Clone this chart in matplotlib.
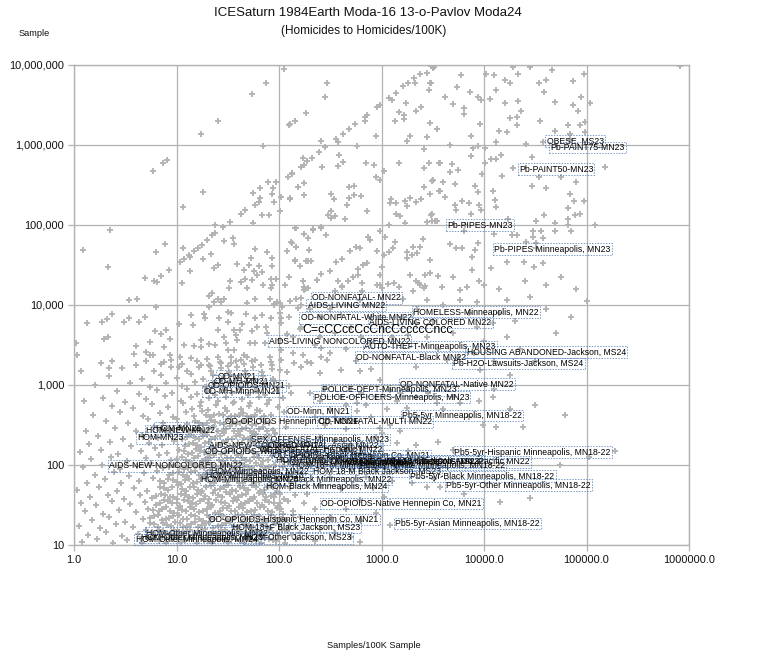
import numpy as np
import matplotlib
matplotlib.use("Agg")
import matplotlib.pyplot as plt

# All values are log10 of (Samples/100K, Sample).
top_right = [(3.50,6.96),(3.78,6.87),(4.02,6.89),(4.10,6.87),(4.28,6.98),(4.33,6.89),(4.45,6.98),(4.66,6.94),(4.98,6.89),(5.91,6.99),(3.47,6.77),(3.74,6.72),(3.86,6.66),(3.94,6.60),(3.97,6.56),(4.06,6.58),(4.12,6.69),(4.20,6.81),(4.25,6.77),(4.54,6.77),(4.60,6.81),(4.59,6.66),(4.87,6.80),(4.95,6.60),(4.69,6.54),(4.87,6.50),(5.03,6.53),(4.92,6.43),(3.62,6.60),(3.70,6.51),(3.80,6.46),(3.80,6.39),(4.33,6.55),(4.20,6.52),(4.36,6.43),(4.25,6.34),(4.32,6.35),(4.55,6.30),(4.32,6.25),(3.96,6.26),(3.54,6.20),(4.15,6.18),(4.22,6.16),(3.87,6.11),(4.69,6.17),(4.82,6.25),(4.94,6.25),(4.99,6.29),(4.99,6.16),(4.84,6.14),(4.12,6.04),(3.89,5.96),(3.94,5.99),(4.01,5.96),(3.67,6.00),(4.41,6.01),(4.58,6.04),(4.84,6.06),(3.87,5.86),(4.17,5.87),(4.07,5.82),(4.12,5.83),(4.47,5.85),(4.01,5.78),(3.57,5.78),(3.69,5.76),(3.75,5.69),(3.67,5.66),(3.98,5.64),(4.28,5.71),(4.47,5.49),(4.54,5.60),(4.75,5.60),(4.90,5.54),(4.18,5.61),(5.18,5.73),(3.60,5.54),(3.72,5.51),(3.49,5.55),(3.91,5.49),(3.94,5.41),(4.09,5.42),(3.57,5.43),(3.62,5.35),(4.11,5.31),(4.60,5.46),(4.84,5.39),(4.88,5.30),(4.98,5.30),(3.79,5.30),(3.85,5.28),(3.72,5.25),(3.95,5.25),(4.12,5.23),(3.97,5.19),(3.73,5.19),(3.87,5.14),(3.49,5.14),(4.59,5.13),(4.82,5.21),(4.82,5.08),(4.89,5.12),(4.94,5.14),(4.23,5.08),(4.51,5.05),(4.69,5.03),(3.52,5.05),(3.81,5.00),(5.08,5.00),(4.82,5.00),(4.85,4.92),(4.69,4.92),(4.27,4.87),(4.32,4.87),(4.56,4.93),(4.48,4.93),(4.10,4.89),(3.80,4.93),(4.48,4.85),(4.58,4.84),(4.51,4.78),(3.67,4.76),(3.73,4.71),(3.79,4.71),(3.94,4.77),(3.91,4.69),(3.88,4.60),(4.22,4.54),(4.39,4.54),(4.49,4.48),(4.58,4.52),(4.07,4.46),(3.88,4.44),(4.51,4.71),(4.41,4.79)]

top_left = [(.77,5.68),(.87,5.78),(.91,5.81),(1.24,6.14),(1.40,6.30),(1.74,6.64),(1.87,6.78),(2.05,6.95),(1.84,5.99),(2.10,6.25),(2.16,6.30),(1.26,5.41),(1.75,5.40),(1.81,5.46),(1.89,5.54),(1.97,5.54),(1.94,5.46),(1.93,5.39),(2.02,5.35),(2.11,5.34),(2.09,5.60),(2.13,5.65),(2.19,5.48),(1.81,5.34)]

upper_centre = [(2.47,6.78),(2.45,6.60),(2.26,6.40),(2.16,6.30),(2.11,6.26),(2.84,6.35),(2.86,6.38),(2.84,6.30),(2.74,6.26),(2.68,6.20),(2.62,6.14),(2.56,6.08),(2.58,6.04),(2.41,6.05),(2.95,6.11),(2.96,6.48),(2.99,6.50),(3.07,6.59),(3.10,6.56),(3.14,6.65),(3.21,6.74),(3.26,6.78),(3.32,6.84),(3.33,6.78),(3.38,6.89),(3.44,6.90),(3.48,6.99),(3.51,6.97),(3.48,6.78),(3.46,6.69),(3.24,6.53),(3.17,6.41),(3.22,6.38),(3.13,6.30),(3.22,6.32),(3.34,6.42),(3.39,6.48),(3.47,6.27),(3.54,6.20),(3.28,6.11),(3.25,6.05),(3.44,6.10),(2.76,5.99),(2.45,5.97),(2.39,5.91),(2.59,5.88),(2.23,5.84),(2.32,5.84),(2.27,5.80),(2.24,5.75),(2.21,5.72),(2.42,5.72),(2.13,5.64),(2.62,5.79),(2.58,5.74),(2.85,5.78),(2.93,5.75),(3.02,5.67),(2.95,5.60),(2.99,5.56),(3.17,5.77),(3.41,5.95),(3.46,5.77),(3.41,5.71),(3.56,5.78),(3.50,5.56),(3.41,5.47),(3.56,5.43),(3.47,5.39),(2.24,5.53),(2.19,5.47),(2.24,5.38),(2.11,5.33),(2.68,5.47),(2.73,5.49),(2.73,5.38),(2.80,5.36),(2.51,5.39),(2.54,5.33),(2.68,5.34),(2.66,5.25),(2.86,5.17),(2.51,5.17),(2.48,5.13),(2.55,5.11),(2.51,5.09),(2.64,5.07),(3.09,5.33),(3.08,5.27),(3.14,5.27),(3.23,5.30),(3.25,5.24),(3.28,5.34),(3.34,5.29),(3.39,5.32),(3.14,5.14),(3.18,5.11),(3.23,5.03),(3.48,5.13),(3.44,5.04),(3.49,5.05),(3.54,5.05),(3.07,5.00),(2.17,4.96),(2.33,4.95),(2.41,4.97),(2.24,4.89),(2.28,4.84),(2.46,4.88),(2.12,4.79),(2.17,4.73),(2.29,4.69),(2.16,4.55),(2.20,4.49),(2.26,4.55),(2.31,4.55),(2.56,4.54),(2.61,4.58),(2.69,4.67),(2.75,4.73),(2.79,4.71),(2.87,4.85),(2.89,4.81),(2.99,4.92),(3.03,4.85),(3.13,4.79),(3.11,4.71),(3.07,4.66),(3.02,4.62),(2.96,4.67),(3.40,4.83),(3.38,4.72),(3.31,4.72),(3.25,4.66),(3.35,4.65),(3.30,4.62),(3.25,4.59),(3.47,4.56),(2.86,4.52),(2.82,4.50),(2.77,4.45),(2.50,4.42),(2.41,4.39),(2.77,4.38),(2.72,4.35),(2.67,4.30),(2.61,4.24),(2.58,4.30),(2.55,4.18),(2.37,4.31),(2.23,4.30),(2.25,4.20),(3.00,4.47),(2.99,4.37),(2.96,4.25),(3.00,4.21),(3.06,4.26),(3.17,4.22),(3.28,4.38),(3.34,4.30),(3.37,4.27),(3.42,4.24),(3.42,4.37),(3.47,4.40),(3.55,4.36),(2.81,4.17),(3.31,4.17)]

upper_left = [(.35,4.94),(.09,4.69),(.33,4.48),(.80,4.66),(.89,4.76),(.69,4.34),(.93,4.44),(.78,4.30),(.81,4.29),(.85,4.36),(.54,4.06),(.61,4.07),(.80,3.98),(.13,3.78),(.27,3.79),(.32,3.83),(.37,3.89),(.49,3.79),(.54,3.84),(.63,3.79),(.69,3.85),(.33,3.60),(.29,3.57),(.02,3.53),(.03,3.37),(.59,3.39),(.60,3.49),(.74,3.54),(.79,3.68),(.90,3.69),(.85,3.64),(.94,3.58),(.88,3.47),(.94,3.37),(.70,3.41),(.74,3.37),(.77,3.37),(.37,3.30),(.34,3.21),(.70,3.30),(.85,3.26),(.95,3.31),(1.03,4.54),(1.07,4.58),(1.12,4.62),(1.17,4.68),(1.21,4.71),(1.25,4.75),(1.30,4.81),(1.35,4.87),(1.38,4.90),(1.06,4.71),(1.13,4.60),(1.26,4.58),(1.34,4.64),(1.40,4.50),(1.37,4.46),(1.13,4.42),(1.05,4.28),(1.06,5.23),(1.63,5.14),(1.67,5.19),(1.77,5.25),(1.80,5.29),(1.52,5.04),(1.38,5.00),(1.45,4.97),(1.75,5.03),(1.83,5.12),(1.90,5.13),(2.01,5.17),(1.95,5.29),(1.55,4.84),(1.46,4.80),(1.56,4.76),(1.77,4.70),(1.88,4.66),(1.73,4.59),(1.93,4.59),(1.59,4.51),(1.71,4.50),(1.66,4.44),(1.80,4.49),(1.93,4.49),(1.76,4.43),(1.83,4.41),(1.52,4.30),(1.63,4.29),(1.67,4.33),(1.74,4.31),(1.79,4.37),(1.92,4.33),(1.97,4.32),(1.84,4.25),(1.93,4.25),(1.51,4.21),(1.69,4.21),(1.92,4.21),(1.35,4.15),(1.32,4.11),(1.40,4.08),(1.46,4.08),(1.37,4.04),(1.43,4.04),(1.77,4.07),(1.69,4.02),(1.98,4.04),(1.95,4.01),(2.03,3.98),(2.11,4.05),(2.21,4.09),(2.24,4.19),(2.28,4.21),(2.21,4.00),(2.08,4.68),(2.16,4.56),(2.28,4.55),(2.10,4.35),(2.23,4.30),(2.37,4.31),(2.16,4.96),(2.24,4.89),(2.33,4.94),(2.41,4.96),(2.13,4.78),(2.17,4.73),(2.29,4.69),(1.32,3.97),(1.27,3.89),(1.14,3.87),(1.28,3.84),(1.02,3.76),(1.16,3.75),(1.41,3.84),(1.53,3.90),(1.50,3.91),(1.68,3.89),(1.77,3.84),(2.02,3.84),(1.92,3.84),(1.50,3.79),(1.64,3.76),(2.02,3.77),(1.87,3.73),(1.79,3.73),(1.62,3.69),(1.56,3.69),(1.40,3.69),(1.74,3.68),(1.58,3.62),(1.46,3.60),(1.24,3.56),(1.32,3.51),(1.07,3.50),(1.17,3.49),(1.24,3.47),(1.38,3.50),(1.48,3.52),(1.59,3.56),(1.72,3.52),(1.77,3.52),(1.50,3.44),(1.56,3.44),(1.40,3.35),(1.66,3.37),(1.53,3.35),(1.14,3.34),(1.30,3.32),(1.03,3.35),(1.02,3.23),(1.24,3.25),(1.33,3.24),(1.43,3.27),(1.53,3.27),(1.63,3.31),(1.69,3.35),(1.77,3.31),(1.93,3.25),(2.02,3.31),(2.02,3.44),(2.15,3.27),(2.23,3.37),(2.31,3.27),(2.41,3.35),(2.08,3.64),(2.21,3.73),(2.41,3.46)]

mid_band = [(2.06,4.25),(2.24,4.23),(2.61,4.23),(2.81,4.27),(2.99,4.25),(3.12,4.27),(3.38,4.25),(3.41,4.21),(3.59,4.23),(3.77,4.19),(3.83,4.23),(4.00,4.25),(1.91,4.08),(2.17,4.08),(2.79,4.06),(3.21,4.08),(3.44,4.06),(3.77,4.06),(3.93,4.04),(4.22,4.06),(2.01,4.02),(1.95,4.00),(2.19,3.96),(1.83,3.87),(2.01,3.90),(3.34,3.77),(3.26,3.62),(4.09,3.77),(4.22,3.60),(3.93,3.73),(3.44,3.60),(2.89,3.52),(2.40,3.60),(2.14,3.60),(2.01,3.56),(1.86,3.52),(1.88,3.65),(3.34,3.23),(3.64,3.31),(3.96,3.19),(4.25,3.12),(4.09,2.85),(3.34,2.85),(3.54,2.77),(3.77,2.77),(3.18,2.90),(3.08,2.94),(2.99,3.06),(2.79,3.17),(2.40,3.15),(2.21,3.23),(2.01,3.19),(2.60,3.19),(2.47,3.31),(2.27,3.29),(1.91,3.35),(2.14,3.40),
(2.30,3.95),(2.40,3.85),(2.50,3.95),(2.60,3.88),(2.70,3.72),(2.55,3.65),(2.65,3.45),(2.80,3.60),(2.90,3.85),(3.00,3.75),(2.20,3.70),(2.10,3.85),(2.35,3.50),(2.50,3.40),(2.75,3.30),(2.90,3.20),(3.05,3.35),(3.10,3.60),(3.20,3.85),(3.35,3.95),(3.50,3.80),(3.60,4.00),(3.70,3.65),(3.85,3.90),(4.00,3.55),(4.15,3.90),(4.30,3.80),(4.45,4.10),(4.60,3.95),(3.55,3.45),(3.75,3.35),(3.90,3.40),(4.10,3.30),(4.35,3.45),(4.50,3.30),(4.70,3.65),(4.40,4.30),(4.15,4.20),(4.60,4.25),(4.75,4.35),(4.90,4.20),(5.00,4.05),(4.85,3.85),(3.95,4.30),(3.70,4.35)]

lower_right = [(4.79,2.62),(2.76,2.77),(3.99,2.50),(4.12,2.48),(4.38,2.48),(3.55,2.29),(3.34,2.25),(3.26,2.17),(3.70,2.19),(5.28,2.17),(5.02,2.10),(4.74,2.00),(4.16,1.54),(4.45,1.59),(3.08,1.25),(2.79,1.04),(3.44,1.73),(3.57,1.73),(3.30,1.77),(3.80,1.64),(3.02,1.60),(2.92,1.71),(2.79,1.56),(2.27,1.64),(2.01,1.52),(2.24,1.52),(2.04,1.39),(2.14,1.37),(1.95,1.60),(3.51,1.83),(3.15,2.27),(3.18,2.42),(2.99,2.46),(2.95,2.35),(3.25,2.71),(2.76,2.67),(3.08,2.50),(3.31,2.06),
(2.30,2.90),(2.40,2.80),(2.45,2.95),(2.50,2.70),(2.60,2.85),(2.65,2.75),(2.70,2.95),(2.80,2.90),(2.85,2.75),(2.95,2.85),(3.05,2.70),(3.15,2.80),(3.25,2.95),(3.35,2.60),(3.45,2.90),(3.60,2.70),(3.70,2.85),(3.85,2.60),(3.95,2.80),(4.10,2.95),(4.25,2.70),(4.50,2.75),(2.35,2.60),(2.45,2.50),(2.55,2.60),(2.65,2.45),(2.75,2.55),(2.90,2.60),(3.00,2.40),(2.40,2.35),(2.55,2.30),(2.70,2.25),(2.80,2.15),(2.90,2.10),(3.05,2.05),(3.15,1.95),(2.60,2.10),(2.45,2.00),(2.50,1.85),(2.70,1.95),(2.85,1.85),(2.95,1.95),(3.10,1.80),(2.60,1.70),(2.40,1.75),(2.35,1.45),(2.50,1.35),(2.65,1.45),(2.80,1.30),(2.95,1.40),(2.40,1.20),(2.55,1.15),(2.70,1.10),(2.20,1.15),(2.35,1.05)]

cloud_low = [(.08,1.04),(.22,1.07),(.38,1.03),(.52,1.06),(.66,1.02),(.75,1.08),(.83,1.05),(.9,1.02),(.97,1.07),(1.04,1.04),(1.12,1.09),(1.2,1.03),(1.27,1.06),(1.35,1.02),(1.42,1.08),(1.5,1.04),(1.58,1.07),(1.66,1.03),(1.74,1.06),(1.82,1.02),(1.9,1.08),(1.97,1.05),(2.06,1.03),(2.17,1.07),
(.14,1.13),(.31,1.16),(.47,1.11),(.62,1.14),(.7,1.19),(.79,1.12),(.87,1.17),(.95,1.14),(1.01,1.11),(1.09,1.17),(1.16,1.13),(1.24,1.18),(1.31,1.12),(1.39,1.15),(1.47,1.19),(1.55,1.11),(1.63,1.16),(1.7,1.13),(1.78,1.18),(1.86,1.12),(1.94,1.15),(2.03,1.19),(2.13,1.12),
(.05,1.24),(.25,1.21),(.41,1.26),(.58,1.23),(.74,1.27),(.82,1.22),(.91,1.25),(.99,1.29),(1.06,1.22),(1.14,1.26),(1.21,1.23),(1.29,1.28),(1.36,1.21),(1.44,1.25),(1.52,1.29),(1.6,1.22),(1.68,1.26),(1.75,1.23),(1.83,1.28),(1.91,1.21),(2.0,1.26),(2.1,1.24),
(.18,1.31),(.34,1.35),(.5,1.29),(.67,1.33),(.78,1.36),(.86,1.31),(.93,1.34),(1.02,1.38),(1.1,1.32),(1.18,1.36),(1.26,1.3),(1.33,1.35),(1.41,1.39),(1.49,1.31),(1.56,1.34),(1.64,1.38),(1.72,1.32),(1.8,1.36),(1.88,1.3),(1.96,1.34),(2.07,1.31),(2.2,1.35),
(.11,1.42),(.28,1.39),(.44,1.44),(.6,1.41),(.72,1.45),(.83,1.42),(.9,1.47),(.98,1.4),(1.05,1.44),(1.13,1.48),(1.22,1.41),(1.3,1.45),(1.38,1.4),(1.45,1.46),(1.53,1.42),(1.61,1.47),(1.69,1.41),(1.77,1.44),(1.85,1.48),(1.93,1.41),(2.02,1.45),(2.14,1.42),
(.07,1.53),(.21,1.5),(.37,1.55),(.55,1.51),(.69,1.54),(.8,1.5),(.88,1.56),(.96,1.52),(1.03,1.49),(1.11,1.55),(1.19,1.51),(1.27,1.57),(1.35,1.5),(1.43,1.54),(1.51,1.49),(1.59,1.56),(1.67,1.52),(1.75,1.57),(1.83,1.5),(1.9,1.54),(1.99,1.49),(2.09,1.55),
(.16,1.6),(.33,1.63),(.49,1.58),(.64,1.62),(.76,1.59),(.85,1.64),(.94,1.6),(1.0,1.57),(1.08,1.63),(1.16,1.59),(1.24,1.65),(1.32,1.58),(1.4,1.62),(1.48,1.66),(1.56,1.59),(1.64,1.63),(1.72,1.58),(1.8,1.65),(1.87,1.6),(1.96,1.64),(2.05,1.58),(2.16,1.62)]

cloud_mid = [(.03,1.69),(.24,1.72),(.42,1.67),(.59,1.71),(.71,1.68),(.84,1.73),(.92,1.69),(1.01,1.75),(1.09,1.67),(1.17,1.72),(1.25,1.68),(1.34,1.74),(1.42,1.7),(1.5,1.75),(1.58,1.67),(1.66,1.71),(1.74,1.75),(1.81,1.68),(1.89,1.72),(1.98,1.67),(2.11,1.71),
(.13,1.78),(.3,1.82),(.46,1.77),(.63,1.8),(.77,1.84),(.88,1.78),(.97,1.81),(1.04,1.76),(1.12,1.83),(1.2,1.79),(1.28,1.84),(1.37,1.77),(1.45,1.81),(1.53,1.85),(1.61,1.78),(1.69,1.82),(1.76,1.77),(1.84,1.83),(1.92,1.79),(2.0,1.84),(2.12,1.78),
(.2,1.88),(.39,1.91),(.54,1.86),(.68,1.9),(.81,1.93),(.93,1.87),(1.02,1.91),(1.1,1.86),(1.18,1.92),(1.26,1.88),(1.33,1.94),(1.41,1.87),(1.49,1.9),(1.57,1.85),(1.65,1.92),(1.73,1.88),(1.81,1.93),(1.89,1.86),(1.97,1.9),(2.08,1.87),
(.09,1.97),(.27,2.0),(.45,1.95),(.61,1.99),(.75,2.02),(.87,1.96),(.99,2.0),(1.07,1.95),(1.15,2.01),(1.23,1.97),(1.31,2.03),(1.39,1.96),(1.47,2.0),(1.55,1.95),(1.62,2.02),(1.7,1.98),(1.78,2.03),(1.86,1.96),(1.95,2.0),(2.04,1.97),
(.17,2.07),(.36,2.1),(.52,2.05),(.7,2.09),(.83,2.12),(.95,2.06),(1.05,2.1),(1.13,2.04),(1.21,2.11),(1.29,2.07),(1.37,2.12),(1.45,2.05),(1.53,2.09),(1.6,2.13),(1.68,2.06),(1.76,2.1),(1.84,2.05),(1.93,2.11),(2.03,2.07),
(.06,2.16),(.26,2.19),(.43,2.14),(.65,2.18),(.79,2.21),(.91,2.15),(1.02,2.19),(1.11,2.14),(1.19,2.2),(1.27,2.16),(1.35,2.21),(1.43,2.14),(1.51,2.18),(1.59,2.13),(1.67,2.2),(1.75,2.16),(1.83,2.21),(1.92,2.15),
(.15,2.26),(.35,2.29),(.56,2.24),(.73,2.28),(.86,2.25),(.98,2.3),(1.08,2.24),(1.16,2.28),(1.24,2.23),(1.32,2.29),(1.4,2.25),(1.48,2.3),(1.56,2.23),(1.64,2.27),(1.72,2.31),(1.8,2.24),(1.88,2.28),(1.98,2.25),
(.23,2.36),(.48,2.33),(.66,2.38),(.82,2.34),(.94,2.39),(1.05,2.33),(1.14,2.37),(1.22,2.32),(1.3,2.38),(1.38,2.34),(1.46,2.4),(1.54,2.33),(1.62,2.37),(1.7,2.32),(1.78,2.39),(1.86,2.35),(1.96,2.4)]

cloud_high = [(.12,2.43),(.4,2.46),(.6,2.42),(.78,2.47),(.9,2.43),(1.03,2.48),(1.12,2.42),(1.2,2.46),(1.28,2.41),(1.36,2.47),(1.44,2.43),(1.52,2.49),(1.6,2.42),(1.68,2.46),(1.76,2.41),(1.84,2.48),(1.94,2.44),(2.07,2.47),
(.31,2.55),(.53,2.52),(.72,2.57),(.87,2.53),(1.0,2.58),(1.1,2.51),(1.18,2.55),(1.26,2.5),(1.34,2.56),(1.42,2.52),(1.5,2.58),(1.58,2.51),(1.66,2.55),(1.74,2.5),(1.82,2.57),(1.9,2.53),
(.19,2.63),(.45,2.66),(.67,2.61),(.84,2.65),(.97,2.6),(1.09,2.66),(1.17,2.61),(1.25,2.67),(1.33,2.6),(1.41,2.64),(1.49,2.68),(1.57,2.61),(1.65,2.65),(1.73,2.6),(1.81,2.67),(1.92,2.63),(2.05,2.66),
(.37,2.74),(.58,2.71),(.76,2.76),(.92,2.72),(1.06,2.77),(1.15,2.7),(1.23,2.74),(1.31,2.69),(1.39,2.75),(1.47,2.71),(1.55,2.77),(1.63,2.7),(1.71,2.74),(1.79,2.69),(1.88,2.76),(1.99,2.72),
(.1,2.8),(.28,2.84),(.5,2.79),(.7,2.83),(.89,2.86),(1.04,2.8),(1.14,2.85),(1.24,2.79),(1.32,2.84),(1.4,2.8),(1.48,2.85),(1.56,2.79),(1.64,2.83),(1.72,2.78),(1.8,2.85),(1.9,2.81),(2.04,2.84),
(.42,2.93),(.63,2.89),(.81,2.94),(.96,2.9),(1.1,2.95),(1.2,2.89),(1.3,2.93),(1.38,2.88),(1.46,2.94),(1.54,2.9),(1.62,2.95),(1.7,2.88),(1.78,2.92),(1.86,2.87),(1.98,2.93),(2.12,2.9),
(.2,3.0),(.55,3.03),(.74,2.98),(.9,3.02),(1.05,2.99),(1.18,3.04),(1.28,2.98),(1.37,3.02),(1.45,2.97),(1.53,3.03),(1.61,2.99),(1.69,3.04),(1.77,2.97),(1.85,3.01),(1.95,3.05),(2.1,2.99),
(.34,3.11),(.66,3.08),(.85,3.13),(1.0,3.09),(1.14,3.14),(1.26,3.08),(1.36,3.12),(1.44,3.07),(1.52,3.13),(1.6,3.09),(1.68,3.14),(1.76,3.07),(1.84,3.11),(1.94,3.07),
(.07,3.18),(.47,3.21),(.78,3.17),(.95,3.22),(1.1,3.18),(1.22,3.23),(1.34,3.17),(1.43,3.21),(1.51,3.16),(1.59,3.22),(1.67,3.18),(1.75,3.23),(1.83,3.16),(1.93,3.2),(2.08,3.16),
(.26,3.28),(.6,3.25),(.88,3.29),(1.05,3.26),(1.2,3.3),(1.32,3.25),(1.42,3.29),(1.5,3.24),(1.58,3.3),(1.66,3.26),(1.74,3.3),(1.82,3.25),(1.92,3.29)]

cloud_core = [(.72,1.09),(.86,1.1),(.94,1.08),(1.0,1.1),(1.08,1.06),(1.16,1.08),(1.24,1.1),(1.31,1.05),(1.39,1.09),(1.46,1.06),(1.54,1.09),(1.62,1.05),(1.7,1.09),(1.78,1.05),(1.86,1.09),(1.94,1.06),
(.76,1.16),(.83,1.19),(.91,1.15),(.98,1.19),(1.05,1.15),(1.13,1.19),(1.2,1.15),(1.28,1.2),(1.35,1.15),(1.43,1.19),(1.51,1.15),(1.59,1.19),(1.67,1.15),(1.74,1.19),(1.82,1.15),(1.9,1.19),(1.98,1.15),(2.08,1.18),
(.78,1.26),(.87,1.28),(.95,1.24),(1.03,1.27),(1.1,1.24),(1.18,1.29),(1.25,1.25),(1.33,1.29),(1.4,1.24),(1.48,1.27),(1.56,1.24),(1.64,1.29),(1.71,1.25),(1.79,1.29),(1.87,1.24),(1.96,1.28),
(.74,1.34),(.82,1.37),(.9,1.33),(.97,1.36),(1.06,1.33),(1.14,1.37),(1.22,1.33),(1.3,1.38),(1.37,1.33),(1.45,1.36),(1.53,1.33),(1.6,1.37),(1.68,1.33),(1.76,1.38),(1.84,1.33),(1.92,1.37),(2.02,1.33),
(.77,1.44),(.86,1.45),(.94,1.43),(1.01,1.46),(1.09,1.42),(1.17,1.45),(1.26,1.42),(1.34,1.47),(1.42,1.43),(1.49,1.46),(1.57,1.42),(1.65,1.46),(1.73,1.42),(1.81,1.47),(1.89,1.43),(1.98,1.46),
(.84,1.53),(.92,1.55),(1.0,1.52),(1.07,1.56),(1.15,1.52),(1.23,1.55),(1.31,1.52),(1.39,1.56),(1.47,1.52),(1.55,1.55),(1.63,1.51),(1.71,1.55),(1.79,1.52),(1.86,1.56),(1.95,1.52),
(.8,1.61),(.89,1.63),(.97,1.6),(1.04,1.64),(1.12,1.6),(1.2,1.64),(1.28,1.61),(1.36,1.65),(1.44,1.6),(1.52,1.64),(1.6,1.6),(1.68,1.64),(1.76,1.6),(1.84,1.64),(1.92,1.61),(2.01,1.64),
(.88,1.71),(.96,1.73),(1.05,1.7),(1.13,1.73),(1.21,1.69),(1.29,1.72),(1.38,1.69),(1.46,1.73),(1.54,1.69),(1.62,1.73),(1.7,1.69),(1.78,1.73),(1.85,1.69),(1.94,1.73),
(.84,1.8),(.92,1.82),(1.0,1.79),(1.08,1.81),(1.16,1.78),(1.24,1.82),(1.33,1.79),(1.41,1.83),(1.49,1.79),(1.57,1.82),(1.65,1.78),(1.73,1.82),(1.8,1.79),(1.88,1.82),(1.96,1.79),
(.97,1.9),(1.06,1.88),(1.14,1.91),(1.22,1.87),(1.3,1.9),(1.37,1.87),(1.45,1.91),(1.53,1.87),(1.61,1.9),(1.69,1.87),(1.77,1.91),(1.85,1.88),(1.93,1.91),
(.93,1.98),(1.03,1.99),(1.11,1.96),(1.19,1.99),(1.27,1.96),(1.35,2.0),(1.43,1.97),(1.51,2.0),(1.59,1.97),(1.66,2.0),(1.74,1.96),(1.82,2.0),(1.9,1.97),
(1.0,2.08),(1.09,2.06),(1.17,2.09),(1.25,2.05),(1.33,2.09),(1.41,2.06),(1.49,2.09),(1.57,2.05),(1.64,2.09),(1.72,2.05),(1.8,2.09),(1.89,2.06),
(1.07,2.17),(1.15,2.15),(1.23,2.18),(1.31,2.14),(1.39,2.18),(1.47,2.15),(1.55,2.18),(1.63,2.14),(1.71,2.18),(1.79,2.14),(1.87,2.18),
(1.12,2.26),(1.2,2.25),(1.28,2.27),(1.36,2.23),(1.44,2.27),(1.52,2.24),(1.6,2.27),(1.68,2.23),(1.76,2.27),(1.84,2.24),(1.92,2.27),
(1.1,2.35),(1.18,2.34),(1.26,2.36),(1.34,2.33),(1.42,2.36),(1.5,2.33),(1.58,2.36),(1.66,2.34),(1.74,2.36),(1.82,2.33),(1.9,2.36),
(1.16,2.44),(1.24,2.43),(1.32,2.45),(1.4,2.42),(1.48,2.45),(1.56,2.43),(1.64,2.45),(1.72,2.42),(1.8,2.45),(1.88,2.43),
(1.22,2.53),(1.3,2.52),(1.38,2.54),(1.46,2.51),(1.54,2.54),(1.62,2.52),(1.7,2.54),(1.78,2.51),(1.86,2.54),
(1.29,2.62),(1.37,2.62),(1.45,2.63),(1.53,2.61),(1.61,2.63),(1.69,2.61),(1.77,2.63),(1.85,2.61)]

points_log10 = top_right + top_left + upper_centre + upper_left + mid_band + lower_right + cloud_low + cloud_mid + cloud_high + cloud_core

label_names = ["OBESE, MS23","Pb-PAINT75-MN23","Pb-PAINT50-MN23","Pb-PIPES-MN23","Pb-PIPES Minneapolis, MN23",
"OD-NONFATAL- MN22","AIDS-LIVING MN22","OD-NONFATAL-White MN22","HOMELESS-Minneapolis, MN22","AIDS-LIVING COLORED MN22",
"AIDS-LIVING NONCOLORED MN22","AUTO-THEFT-Minneapolis, MN23","OD-NONFATAL-Black MN22","HOUSING ABANDONED-Jackson, MS24","Pb-H2O-Lawsuits-Jackson, MS24",
"OD-NONFATAL-Native MN22","POLICE-DEPT-Minneapolis, MN23","POLICE-OFFICERS-Minneapolis, MN23","OD-MN21","OD-OPIOIDS-MN21","OD-MH-MN21","OD-MH-Minn-MN21",
"OD-Minn, MN21","Pb5-5yr Minneapolis, MN18-22","OD-OPIOIDS Hennepin Co, MN21","OD-NONFATAL-MULTI MN22","HOM-MN21","HOM-NEW MN22","HOM-MN23",
"SEX OFFENSE-Minneapolis, MN23","AIDS-NEW-COLORED MN22","OD-OPIOIDS-White Hennepin Co, MN21","OD-NONFATAL-Asian MN22","OD-NONFATAL-Hispanic MN22",
"OD-OPIOIDS-Black Hennepin Co, MN21","HOM-Hispanic Minneapolis, MN22","HOM-White Minneapolis, MN22","HOM-Jackson, MS23","HOM-18+M Minneapolis, MN22",
"OD-OPIOIDS-White Minneapolis, MN22","Pb5-5yr-White Minneapolis, MN18-22","HOM-Minneapolis, MN23","HOM-18+ Jackson, MS23","OD-NONFATAL-Pacific MN22",
"Pb5-5yr-Hispanic Minneapolis, MN18-22","AIDS-NEW-NONCOLORED MN22","HOM-Minneapolis, MN22","HOM-Minneapolis, MN23","HOM-Minneapolis, MN24",
"HOM-18-M Black Jackson, MS23","HOM-Black Minneapolis, MN22","HOM-Black Minneapolis, MN24","Pb5-5yr-Black Minneapolis, MN18-22","Pb5-5yr-Other Minneapolis, MN18-22",
"OD-OPIOIDS-Native Hennepin Co, MN21","Pb5-5yr-Asian Minneapolis, MN18-22","OD-OPIOIDS-Hispanic Hennepin Co, MN21","HOM-18+F Black Jackson, MS23","HOM-Other Jackson, MS23",
"HOM-Other Minneapolis, MN22","HOM-Other Minneapolis, MN23","HOM-Other Minneapolis, MN24"]
label_x_log10 = [4.61,4.65,4.34,3.64,4.10,2.32,2.28,2.21,3.31,2.88,1.90,2.83,2.75,3.83,3.70,3.18,2.42,2.34,1.40,1.30,1.36,1.26,2.08,3.20,1.47,2.38,0.79,0.70,0.62,1.73,1.32,1.28,1.89,1.81,1.94,1.97,2.04,2.11,2.13,2.50,2.79,2.61,2.99,3.33,3.71,0.34,1.34,1.29,1.24,2.33,1.91,1.87,3.28,3.63,2.41,3.13,1.32,1.54,1.67,0.70,0.65,0.60]
label_y_log10 = [6.05,5.97,5.70,5.00,4.70,4.09,4.00,3.84,3.91,3.78,3.55,3.48,3.35,3.41,3.27,3.01,2.94,2.85,3.11,2.99,3.05,2.92,2.67,2.62,2.54,2.54,2.46,2.43,2.34,2.32,2.25,2.17,2.24,2.20,2.12,2.06,2.03,2.09,2.00,2.05,2.00,2.03,2.05,2.04,2.16,1.99,1.92,1.87,1.82,1.92,1.82,1.73,1.86,1.75,1.52,1.27,1.32,1.22,1.09,1.15,1.10,1.07]
overlay_text = "C=cCCccCcCncCccccCncc"
overlay_xy_log10 = (2.23, 3.69)

x_ticks = [1, 10, 100, 1000, 10000, 100000, 1000000]
x_tick_labels = ["1.0","10.0","100.0","1000.0","10000.0","100000.0","1000000.0"]
y_ticks = [10, 100, 1000, 10000, 100000, 1000000, 10000000]
y_tick_labels = ["10","100","1,000","10,000","100,000","1,000,000","10,000,000"]

W, H = 760, 658
plt.rcParams['font.family'] = ['Liberation Sans', 'DejaVu Sans']
fig = plt.figure(figsize=(W/100, H/100), dpi=100, facecolor='white')
ax = fig.add_axes([74/W, 1-545/H, (689-74)/W, (545-65)/H])
ax.set_xscale('log'); ax.set_yscale('log')
ax.set_xlim(1, 1e6); ax.set_ylim(10, 1e7)
GREY = '#b3b3b3'
ax.grid(True, which='major', color=GREY, lw=0.9, zorder=1)
ax.minorticks_off()
ax.set_axisbelow(True)
for s in ax.spines.values():
    s.set_color(GREY); s.set_linewidth(1.0)
ax.set_xticks(x_ticks, x_tick_labels, fontsize=7.9)
ax.set_yticks(y_ticks, y_tick_labels, fontsize=7.9)
ax.tick_params(axis='both', which='major', color=GREY, length=4, width=0.9, pad=3, labelcolor='#111111')
ax.tick_params(axis='both', which='minor', length=0)

pts = 10.0 ** np.array(points_log10)
ax.plot(pts[:, 0], pts[:, 1], ls='none', marker='+', ms=4.9, mew=1.35, color=GREY, zorder=2)

for name, lx, ly in zip(label_names, label_x_log10, label_y_log10):
    ax.text(10**lx, 10**ly, name, fontsize=6.25, color='black', ha='left', va='center', zorder=4,
            bbox=dict(boxstyle='square,pad=0.14', fc='none', ec='#3f74b8', lw=0.5, ls=(0, (2, 2))))
ax.text(10**overlay_xy_log10[0], 10**overlay_xy_log10[1], overlay_text, fontsize=8.9, color='black',
        ha='left', va='center', zorder=4)

fig.text(368/W, 1-13/H, "ICESaturn 1984Earth Moda-16 13-o-Pavlov Moda24", fontsize=9.5, ha='center', va='center', color='#111111')
fig.text(364/W, 1-31/H, "(Homicides to Homicides/100K)", fontsize=8.45, ha='center', va='center', color='#111111')
fig.text(34/W, 1-34/H, "Sample", fontsize=6.6, ha='center', va='center', color='#111111')
fig.text(374/W, 1-645/H, "Samples/100K Sample", fontsize=6.6, ha='center', va='center', color='#111111')
fig.savefig('out.png', dpi=100, facecolor='white')
